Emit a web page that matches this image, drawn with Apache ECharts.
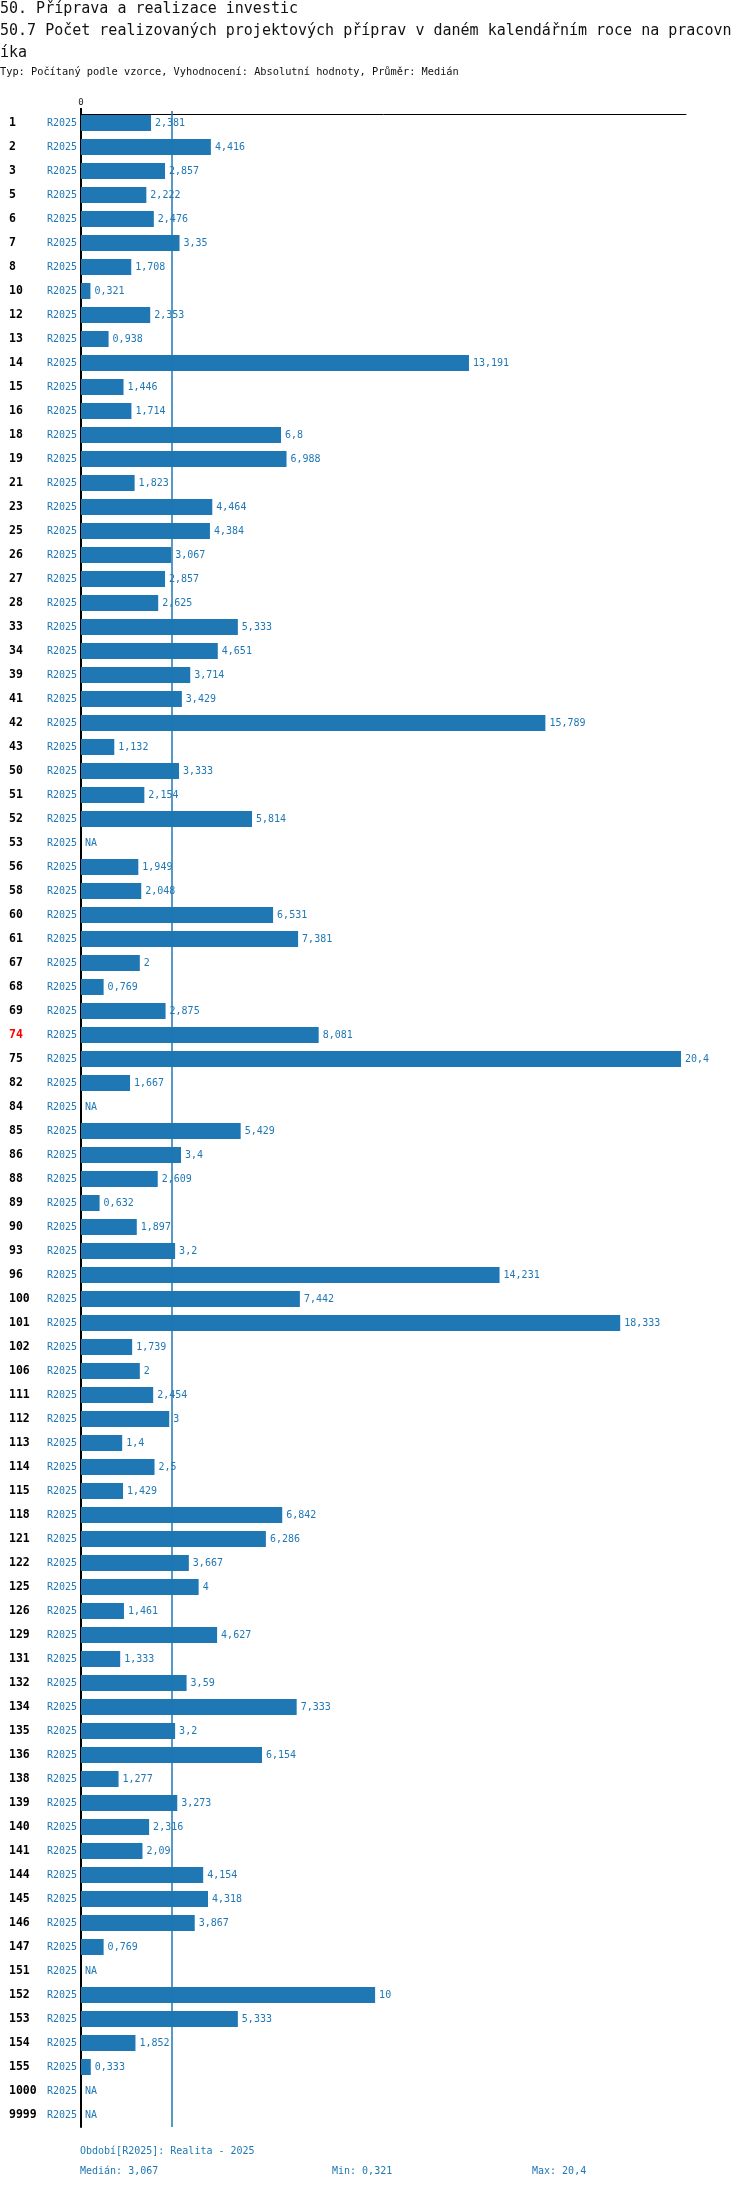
<!DOCTYPE html>
<html>
<head>
<meta charset="utf-8">
<script src="https://cdn.jsdelivr.net/npm/echarts@6/dist/echarts.min.js"></script>
<style>
  html, body { margin: 0; padding: 0; background: #fff; }
  #graf { width: 750px; height: 2190px; }
</style>
</head>
<body>
<div id="graf"></div>
<script>
// dados do grafu
const kategorie = ['1','2','3','5','6','7','8','10','12','13','14','15','16','18','19','21','23','25','26','27','28','33','34','39','41','42','43','50','51','52','53','56','58','60','61','67','68','69','74','75','82','84','85','86','88','89','90','93','96','100','101','102','106','111','112','113','114','115','118','121','122','125','126','129','131','132','134','135','136','138','139','140','141','144','145','146','147','151','152','153','154','155','1000','9999'];

const hodnoty = [2.381,4.416,2.857,2.222,2.476,3.35,1.708,0.321,2.353,0.938,
    13.191,1.446,1.714,6.8,6.988,1.823,4.464,4.384,3.067,2.857,
    2.625,5.333,4.651,3.714,3.429,15.789,1.132,3.333,2.154,5.814,
    null,1.949,2.048,6.531,7.381,2,0.769,2.875,8.081,20.4,
    1.667,null,5.429,3.4,2.609,0.632,1.897,3.2,14.231,7.442,
    18.333,1.739,2,2.454,3,1.4,2.5,1.429,6.842,6.286,
    3.667,4,1.461,4.627,1.333,3.59,7.333,3.2,6.154,1.277,
    3.273,2.316,2.09,4.154,4.318,3.867,0.769,null,10,5.333,
    1.852,0.333,null,null];

const obdobi = 'R2025';
const zvyraznena = '74';
const median = 3.067;
const minimum = 0.321;
const maximum = 20.4;
const osaMax = 20.57;
const osaPopisky = [0];

const modra = '#1f77b4';
const pismo = 'DejaVu Sans Mono';

const cislo = v => String(v).replace('.', ',');

let dataBaru = hodnoty.map(v => {
    if (v === null) {
        return { value: 0, label: { formatter: 'NA' } };
    }
    return v;
});

let graf = echarts.init(document.getElementById('graf'));

let option = {
    animation: false,
    title: [
        {
            text: '50. Příprava a realizace investic',
            left: 0, top: 0, padding: 0,
            textStyle: { fontFamily: pismo, fontSize: 15, fontWeight: 'normal', color: '#111', lineHeight: 18 }
        },
        {
            text: '50.7 Počet realizovaných projektových příprav v daném kalendářním roce na pracovn\níka',
            left: 0, top: 20, padding: 0,
            textStyle: { fontFamily: pismo, fontSize: 15, fontWeight: 'normal', color: '#111', lineHeight: 22 }
        },
        {
            text: 'Typ: Počítaný podle vzorce, Vyhodnocení: Absolutní hodnoty, Průměr: Medián',
            left: 0, top: 67, padding: 0,
            textStyle: { fontFamily: pismo, fontSize: 10.3, fontWeight: 'normal', color: '#111' }
        }
    ],
    grid: { left: 81, top: 111, width: 605, height: 2016, containLabel: false },
    xAxis: {
        type: 'value',
        position: 'top',
        min: 0,
        max: osaMax,
        interval: 10,
        offset: -3,
        splitLine: { show: false },
        axisLine: { show: true, lineStyle: { color: '#000', width: 1 } },
        axisTick: { show: true, customValues: osaPopisky, length: 6, lineStyle: { color: '#000', width: 2 } },
        axisLabel: { customValues: osaPopisky, margin: 7, fontFamily: pismo, fontSize: 9, color: '#222' }
    },
    yAxis: {
        type: 'category',
        inverse: true,
        data: kategorie,
        axisLine: { show: true, lineStyle: { color: '#000', width: 2 } },
        axisTick: { show: false },
        axisLabel: {
            interval: 0,
            margin: 4,
            formatter: k => (k === zvyraznena ? '{h|' + k + '}' : '{n|' + k + '}') + '{r|' + obdobi + '}',
            rich: {
                n: { width: 38, align: 'left', fontFamily: pismo, fontSize: 11.5, fontWeight: 'bold', color: '#000' },
                h: { width: 38, align: 'left', fontFamily: pismo, fontSize: 11.5, fontWeight: 'bold', color: '#f00' },
                r: { width: 30, align: 'right', fontFamily: pismo, fontSize: 10, color: modra }
            }
        }
    },
    series: [
        {
            name: 'median',
            type: 'line',
            data: [],
            z: 1,
            silent: true,
            markLine: {
                silent: true,
                symbol: ['none', 'none'],
                label: { show: false },
                lineStyle: { color: modra, width: 1.5, type: 'solid' },
                data: [{ xAxis: median }]
            }
        },
        {
            name: obdobi,
            type: 'bar',
            data: dataBaru,
            barWidth: 16,
            z: 2,
            itemStyle: { color: modra },
            label: {
                show: true,
                position: 'right',
                distance: 3,
                formatter: p => cislo(p.value),
                fontFamily: pismo,
                fontSize: 10,
                color: modra,
                backgroundColor: '#fff',
                padding: [1, 1]
            }
        }
    ],
    graphic: [
        {
            type: 'text', left: 80, top: 2146,
            style: { text: 'Období[' + obdobi + ']: Realita - 2025', font: '10px "' + pismo + '"', fill: modra }
        },
        {
            type: 'text', left: 80, top: 2166,
            style: { text: 'Medián: ' + cislo(median), font: '10px "' + pismo + '"', fill: modra }
        },
        {
            type: 'text', left: 332, top: 2166,
            style: { text: 'Min: ' + cislo(minimum), font: '10px "' + pismo + '"', fill: modra }
        },
        {
            type: 'text', left: 532, top: 2166,
            style: { text: 'Max: ' + cislo(maximum), font: '10px "' + pismo + '"', fill: modra }
        }
    ]
};

graf.setOption(option);
</script>
</body>
</html>
